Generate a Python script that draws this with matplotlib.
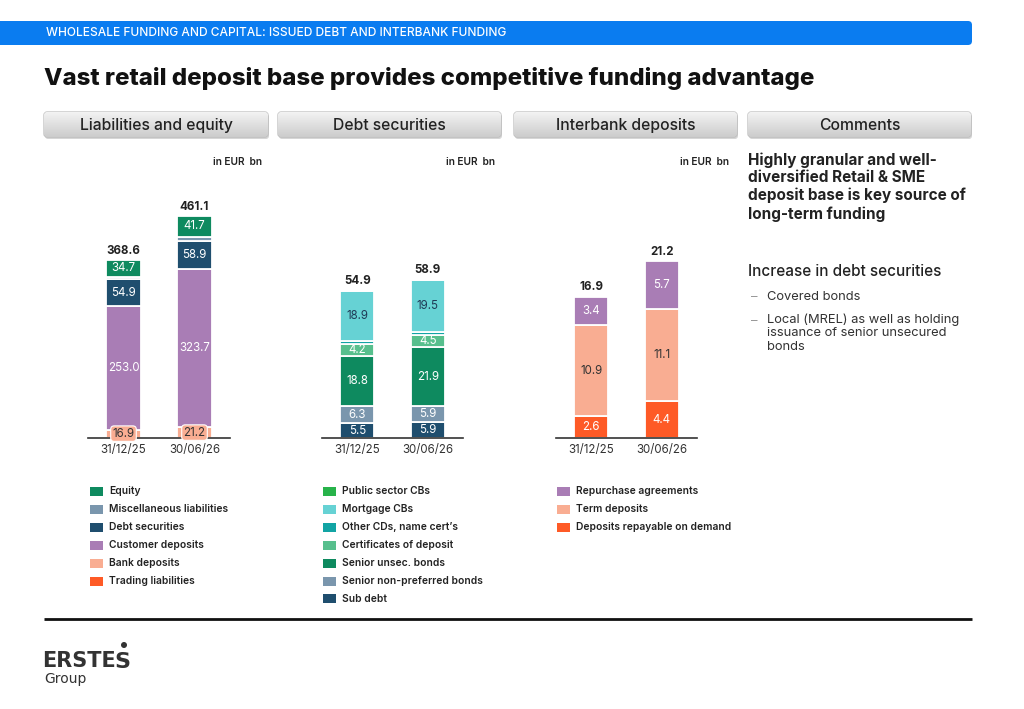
import numpy as np
import matplotlib
matplotlib.use("Agg")
import matplotlib.pyplot as plt
from matplotlib.patches import FancyBboxPatch, Rectangle, Circle

plt.rcParams['font.family'] = ['Inter', 'DejaVu Sans']

# ---- data ----
dates = ['31/12/25', '30/06/26']

# liabilities and equity (bottom -> top)
le_names = ['Trading liabilities', 'Bank deposits', 'Customer deposits',
            'Debt securities', 'Miscellaneous liabilities', 'Equity']
le_vals = [[0.5, 0.5], [16.9, 21.2], [253.0, 323.7], [54.9, 58.9], [4.5, 8.0], [34.7, 41.7]]
le_totals = [368.6, 461.1]

# debt securities (bottom -> top)
ds_names = ['Sub debt', 'Senior non-preferred bonds', 'Senior unsec. bonds',
            'Certificates of deposit', 'Other CDs, name cert\u2019s', 'Mortgage CBs',
            'Public sector CBs']
ds_vals = [[5.5, 5.9], [6.3, 5.9], [18.8, 21.9], [4.2, 4.5], [1.0, 1.0], [18.9, 19.5], [0.2, 0.2]]
ds_totals = [54.9, 58.9]

# interbank deposits (bottom -> top)
ib_names = ['Deposits repayable on demand', 'Term deposits', 'Repurchase agreements']
ib_vals = [[2.6, 4.4], [10.9, 11.1], [3.4, 5.7]]
ib_totals = [16.9, 21.2]

GREEN = '#0e8a5f'
GREYBLUE = '#7a96ad'
NAVY = '#1f4e6e'
PURPLE = '#a97db5'
PEACH = '#f9ad92'
ORANGE = '#fe5a26'
le_colors = [ORANGE, PEACH, PURPLE, NAVY, GREYBLUE, GREEN]
ds_colors = [NAVY, GREYBLUE, GREEN, '#57bf8d', '#12a4a4', '#66d2d4', '#27b34a']
ib_colors = [ORANGE, PEACH, PURPLE]
dark_label = {PEACH: '#333333', '#66d2d4': '#1f3b57'}

W, H = 1024, 709
fig = plt.figure(figsize=(W / 100, H / 100), dpi=100)
bg = fig.add_axes([0, 0, 1, 1])
bg.set_xlim(0, W)
bg.set_ylim(H, 0)
bg.axis('off')

# header banner
bg.add_patch(FancyBboxPatch((-10, 21), 982, 24, boxstyle='round,pad=0,rounding_size=4',
                            fc='#0a7cf0', ec='none'))
bg.text(46, 33.5, 'WHOLESALE FUNDING AND CAPITAL: ISSUED DEBT AND INTERBANK FUNDING',
        color='white', fontsize=8.6, fontweight='medium', va='center')
bg.text(44, 78, 'Vast retail deposit base provides competitive funding advantage',
        fontsize=17.3, fontweight='heavy', va='center', color='#111111')

# tab buttons
grad = np.linspace(0.95, 0.80, 50).reshape(-1, 1)
for (x0, x1), lab in zip([(44, 268), (278, 501), (514, 737), (748, 971)],
                         ['Liabilities and equity', 'Debt securities',
                          'Interbank deposits', 'Comments']):
    bg.add_patch(FancyBboxPatch((x0 + 1, 114), x1 - x0, 25,
                                boxstyle='round,pad=0,rounding_size=3',
                                fc='#bbbbbb', ec='none', alpha=0.6))
    box = FancyBboxPatch((x0, 112), x1 - x0, 25, boxstyle='round,pad=0,rounding_size=3',
                         fc='none', ec='#b5b5b5', lw=0.8)
    bg.add_patch(box)
    im = bg.imshow(grad, extent=[x0, x1, 137, 112], cmap='gray', vmin=0, vmax=1,
                   aspect='auto', zorder=1)
    im.set_clip_path(box)
    bg.text((x0 + x1) / 2, 130, lab, ha='center', va='baseline', fontsize=11.3,
            fontweight='medium', color='#222222', zorder=3)

bg.set_xlim(0, W)
bg.set_ylim(H, 0)


def panel(x0, x1, vals, colors, totals, scale, thresh):
    base, top = 438, 170
    ax = fig.add_axes([x0 / W, (H - base) / H, (x1 - x0) / W, (base - top) / H])
    ax.set_facecolor('none')
    ax.set_xlim(-0.5, 1.5)
    ax.set_ylim(0, (base - top) / scale)
    x = np.arange(len(dates))
    bottom = np.zeros(len(dates))
    for v, c in zip(vals, colors):
        v = np.array(v)
        ax.bar(x, v, bottom=bottom, width=0.48, color=c, edgecolor='white', linewidth=1.3)
        for xi, vi, bi in zip(x, v, bottom):
            if vi >= thresh:
                box = None
                if vi * scale < 11:
                    box = dict(boxstyle='round,pad=0.15,rounding_size=0.3', fc=c, ec='white', lw=0.8)
                ax.text(xi, bi + vi / 2, f'{vi:.1f}', ha='center', va='center',
                        fontsize=8.3, color=dark_label.get(c, 'white'), bbox=box)
        bottom += v
    for xi, t, b in zip(x, totals, bottom):
        ax.text(xi, b + 3.5 / scale, f'{t:.1f}', ha='center', va='bottom', fontsize=8.3,
                fontweight='bold', color='#222222')
    for s in ['top', 'right', 'left']:
        ax.spines[s].set_visible(False)
    ax.spines['bottom'].set_color('#333333')
    ax.spines['bottom'].set_linewidth(1.2)
    ax.set_yticks([])
    ax.set_xticks(x)
    ax.set_xticklabels(dates, fontsize=8.3, color='#333333')
    ax.tick_params(axis='x', length=0, pad=4)
    bg.text(x1 + 32, 162, 'in EUR  bn', ha='right', va='center', fontsize=7.3,
            fontweight='semibold', color='#222222')


panel(88, 230, le_vals, le_colors, le_totals, 180 / 368.6, 10)
panel(322, 463, ds_vals, ds_colors, ds_totals, 148 / 54.9, 2)
panel(556, 697, ib_vals, ib_colors, ib_totals, 141 / 16.9, 1)


def legend(x, names, colors):
    for i, (n, c) in enumerate(zip(names[::-1], colors[::-1])):
        y = 491.5 + i * 17.9
        bg.add_patch(Rectangle((x, y - 4.5), 13, 9, fc=c, ec='none'))
        bg.text(x + 19, y, n, va='center', fontsize=7.4, fontweight='semibold', color='#222222')


legend(90, le_names, le_colors)
legend(323, ds_names, ds_colors)
legend(557, ib_names, ib_colors)

# comments
bg.text(748, 152, 'Highly granular and well-\ndiversified Retail & SME\n'
        'deposit base is key source of\nlong-term funding',
        va='top', fontsize=11, fontweight='bold', color='#222222', linespacing=1.22)
bg.text(748, 271, 'Increase in debt securities', va='center', fontsize=11,
        fontweight='medium', color='#222222')
bg.text(751, 297, '\u2013', va='center', fontsize=9.3, color='#999999')
bg.text(767, 297, 'Covered bonds', va='center', fontsize=9.3, color='#333333')
bg.text(751, 321, '\u2013', va='center', fontsize=9.3, color='#999999')
bg.text(767, 313, 'Local (MREL) as well as holding\nissuance of senior unsecured\nbonds',
        va='top', fontsize=9.3, color='#333333', linespacing=1.2)

# footer
bg.plot([44, 972], [619, 619], color='#111111', lw=2, solid_capstyle='butt')
logo_font = dict(family=['DejaVu Sans'], color='#333333', va='center')
bg.text(42, 661, 'ERSTE', fontsize=15, fontweight='bold', **logo_font)
bg.text(114, 662, 'S', fontsize=16, fontweight='bold', **logo_font)
bg.add_patch(Circle((124, 645), 3, fc='#333333', ec='none'))
bg.text(44, 679, 'Group', fontsize=10, **logo_font)

fig.savefig('out.png', dpi=100)
